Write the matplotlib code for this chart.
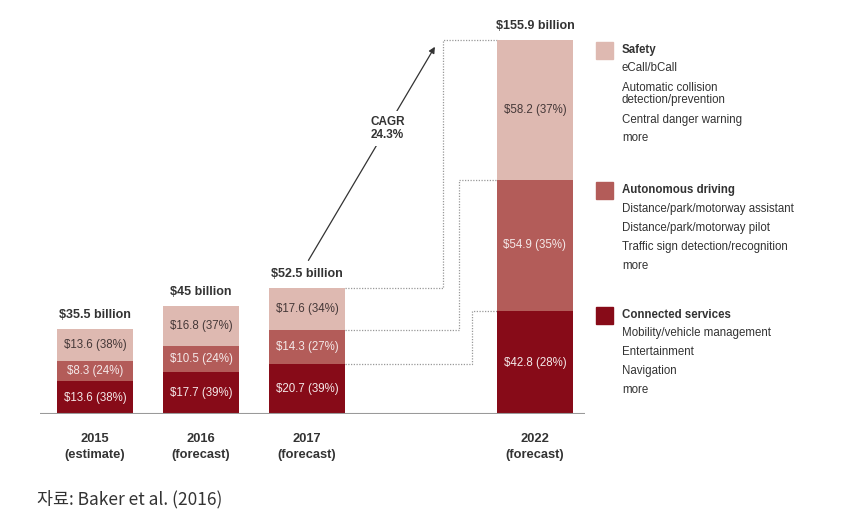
import matplotlib
matplotlib.use('Agg')
import matplotlib.pyplot as plt
import numpy as np

# data ($ billion)
years = ['2015\n(estimate)', '2016\n(forecast)', '2017\n(forecast)', '2022\n(forecast)']
connected = [13.6, 17.7, 20.7, 42.8]
autonomous = [8.3, 10.5, 14.3, 54.9]
safety = [13.6, 16.8, 17.6, 58.2]
connected_pct = [38, 39, 39, 28]
autonomous_pct = [24, 24, 27, 35]
safety_pct = [38, 37, 34, 37]
totals = ['$35.5 billion', '$45 billion', '$52.5 billion', '$155.9 billion']
cagr = 'CAGR\n24.3%'

legend_titles = ['Safety', 'Autonomous driving', 'Connected services']
legend_items = [
    ['eCall/bCall', 'Automatic collision\ndetection/prevention', 'Central danger warning', 'more'],
    ['Distance/park/motorway assistant', 'Distance/park/motorway pilot',
     'Traffic sign detection/recognition', 'more'],
    ['Mobility/vehicle management', 'Entertainment', 'Navigation', 'more'],
]

c_safe = '#deb9b1'
c_auto = '#b35c59'
c_conn = '#870b18'
txt = '#333333'

plt.rcParams['font.family'] = ['Liberation Sans', 'DejaVu Sans']

fig = plt.figure(figsize=(8.43, 5.16), dpi=100)
W, H = 843., 516.
base_px = 414.
top_px = 20.
ppu = 2.4  # pixels per unit
ax = fig.add_axes([40 / W, (H - base_px) / H, (585 - 40) / W, (base_px - top_px) / H])

xs = np.array([0, 1, 2, 4.15])
bw = 0.72
x0 = 95.
ax.set_xlim((40 - x0) / 106., (585 - x0) / 106.)
ax.set_ylim(0, (base_px - top_px) / ppu)

conn = np.array(connected)
auto = np.array(autonomous)
safe = np.array(safety)
ax.bar(xs, conn, bw, color=c_conn, zorder=2)
ax.bar(xs, auto, bw, bottom=conn, color=c_auto, zorder=2)
ax.bar(xs, safe, bw, bottom=conn + auto, color=c_safe, zorder=2)

for i, x in enumerate(xs):
    ax.text(x, conn[i] / 2, '$%.1f (%d%%)' % (conn[i], connected_pct[i]),
            ha='center', va='center', fontsize=8.3, color='#f4e8e8', zorder=3)
    ax.text(x, conn[i] + auto[i] / 2, '$%.1f (%d%%)' % (auto[i], autonomous_pct[i]),
            ha='center', va='center', fontsize=8.3, color='#f4e8e8', zorder=3)
    ax.text(x, conn[i] + auto[i] + safe[i] / 2, '$%.1f (%d%%)' % (safe[i], safety_pct[i]),
            ha='center', va='center', fontsize=8.3, color='#453838', zorder=3)
    ax.text(x, conn[i] + auto[i] + safe[i] + 3.2, totals[i], ha='center', va='bottom',
            fontsize=9, fontweight='bold', color=txt)
    ax.text(x, -8, years[i], ha='center', va='top', fontsize=9.3,
            fontweight='bold', color=txt, linespacing=1.4)

# dotted connectors 2017 -> 2022
tops17 = [conn[2] + auto[2] + safe[2], conn[2] + auto[2], conn[2]]
tops22 = [conn[3] + auto[3] + safe[3], conn[3] + auto[3], conn[3]]
vx = [3.28, 3.43, 3.56]
for a, b, v in zip(tops17, tops22, vx):
    ax.plot([xs[2] + bw / 2, v, v, xs[3] - bw / 2], [a, a, b, b],
            ls=(0, (1, 1.2)), color='#999999', lw=0.9, zorder=1)

# CAGR arrow
ax.annotate('', xy=(3.22, 154), xytext=(2.0, 63),
            arrowprops=dict(arrowstyle='-|>', color='#333333', lw=0.9, mutation_scale=9))
ax.text(2.76, 119, cagr, ha='center', va='center', fontsize=8.5, fontweight='bold',
        color=txt, linespacing=1.1,
        bbox=dict(boxstyle='square,pad=0.4', fc='white', ec='none'))

ax.axhline(0, color='#9a9a9a', lw=1.5, zorder=4)
for s in ax.spines.values():
    s.set_visible(False)
ax.set_xticks([])
ax.set_yticks([])

# legend panel
sq_top = [42, 182, 307]
cols = [c_safe, c_auto, c_conn]
item_y = [[68, 94, 120, 138], [209, 228, 247, 266], [333, 352, 371, 390]]
for k in range(3):
    fig.patches.append(plt.Rectangle((596 / W, 1 - (sq_top[k] + 17) / H), 17 / W, 17 / H,
                                     transform=fig.transFigure, color=cols[k]))
    fig.text(622 / W, 1 - (sq_top[k] + 8) / H, legend_titles[k], ha='left', va='center',
             fontsize=8.3, fontweight='bold', color=txt)
    for t, y in zip(legend_items[k], item_y[k]):
        fig.text(622 / W, 1 - y / H, t, ha='left', va='center', fontsize=8.3,
                 color=txt, linespacing=1.05)

fig.text(37 / W, 1 - 499 / H, '자료: Baker et al. (2016)', ha='left', va='center',
         fontsize=12.5, color='#333333', family=['Noto Sans CJK KR', 'DejaVu Sans'])

fig.savefig('out.png', dpi=100)
